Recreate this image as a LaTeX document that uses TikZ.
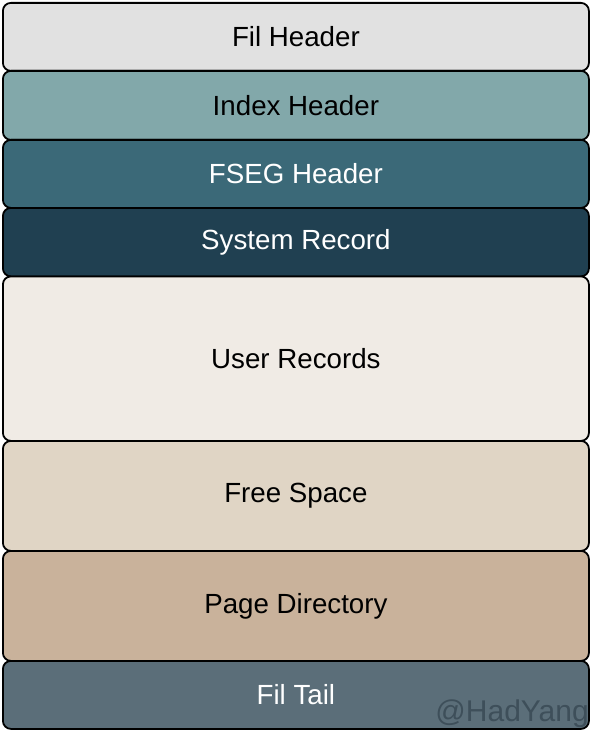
\documentclass[tikz,border=0pt]{standalone}
\usepackage{fontspec}
\setmainfont{Liberation Sans}
\definecolor{cFilHdr}{HTML}{E1E1E1}
\definecolor{cIdxHdr}{HTML}{82A8AA}
\definecolor{cFseg}{HTML}{3B6978}
\definecolor{cSysRec}{HTML}{204051}
\definecolor{cUserRec}{HTML}{F0EBE5}
\definecolor{cFree}{HTML}{E0D5C5}
\definecolor{cPageDir}{HTML}{C9B29B}
\definecolor{cFilTail}{HTML}{5B6E79}
\definecolor{cSig}{HTML}{3E4F5A}
\begin{document}
\begin{tikzpicture}[x=1pt,y=-1pt,
  seg/.style={draw=black, line width=1.8pt, rounded corners=8pt,
    rectangle, anchor=north west, minimum width=586pt, inner sep=0pt,
    font=\fontsize{27.7}{32}\selectfont, text=black},
  darkseg/.style={seg, text=white},
  sigtext/.style={font=\fontsize{30}{34}\selectfont, text=cSig, anchor=base east, inner sep=0pt}]
\useasboundingbox (0,0) rectangle (592,730);
% page sections from top to bottom
\node[seg, fill=cFilHdr, minimum height=68pt] (filhdr) at (2,2) {Fil Header};
\node[seg, fill=cIdxHdr, minimum height=69pt] (idxhdr) at (2,70) {Index Header};
\node[darkseg, fill=cFseg, minimum height=68pt] (fseg) at (2,139) {FSEG Header};
\node[darkseg, fill=cSysRec, minimum height=68.5pt] (sysrec) at (2,207) {System Record};
\node[seg, fill=cUserRec, minimum height=164.5pt] (userrec) at (2,275.5) {User Records};
\node[seg, fill=cFree, minimum height=110pt] (free) at (2,440) {Free Space};
\node[seg, fill=cPageDir, minimum height=110pt] (pagedir) at (2,550) {Page Directory};
\node[darkseg, fill=cFilTail, minimum height=68pt] (filtail) at (2,660) {Fil Tail};
% signature
\node[sigtext] (sig) at (589,721.5) {@HadYang};
\end{tikzpicture}
\end{document}
